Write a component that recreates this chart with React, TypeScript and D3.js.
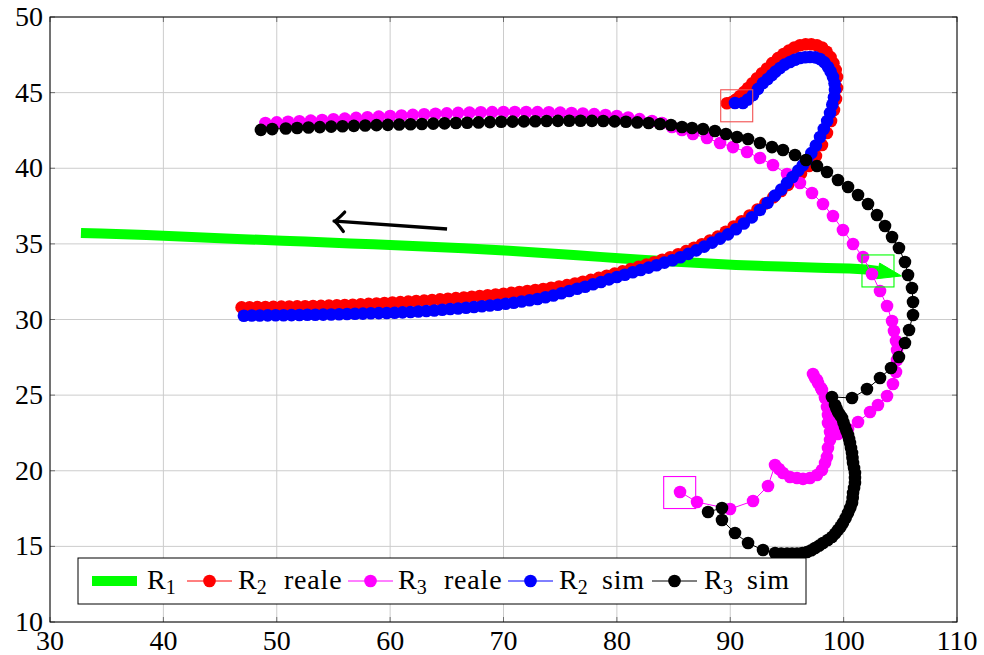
import React from "react";
import * as d3 from "d3";

type P = [number, number];

const xTicks = [30, 40, 50, 60, 70, 80, 90, 100, 110];
const yTicks = [10, 15, 20, 25, 30, 35, 40, 45, 50];

const r1: P[] = [
  [32.73, 35.72], [34.5, 35.68], [36.5, 35.63], [38.5, 35.58], [40.5, 35.52], [42.5, 35.45], [44.5, 35.39],
  [46.5, 35.33], [48.5, 35.27], [50.5, 35.21], [52.5, 35.15], [54.5, 35.09], [56.5, 35.03], [58.5, 34.97],
  [60.5, 34.91], [62.5, 34.85], [64.5, 34.78], [66.5, 34.71], [68.5, 34.63], [70.5, 34.54], [72.5, 34.45],
  [74.5, 34.35], [76.5, 34.25], [78.5, 34.14], [80.5, 34.04], [82.5, 33.94], [84.5, 33.85], [86.5, 33.77],
  [88.5, 33.68], [90.5, 33.61], [92.5, 33.55], [94.5, 33.5], [96.5, 33.45], [98.5, 33.41], [100.5, 33.37],
  [102, 33.31], [103.03, 33.21],
];
const r1Tip: P = [105.1, 32.88];

const r2Reale: P[] = [
  [46.9, 30.8], [47.6, 30.81], [48.3, 30.82], [49, 30.83], [49.7, 30.84], [50.4, 30.85], [51.1, 30.86],
  [51.8, 30.87], [52.5, 30.88], [53.2, 30.89], [53.9, 30.9], [54.6, 30.92], [55.3, 30.94], [56, 30.96],
  [56.7, 30.98], [57.4, 31.0], [58.1, 31.03], [58.8, 31.06], [59.5, 31.09], [60.2, 31.12], [60.9, 31.15],
  [61.6, 31.18], [62.3, 31.22], [63, 31.25], [63.7, 31.29], [64.4, 31.33], [65.1, 31.37], [65.8, 31.41],
  [66.5, 31.45], [67.2, 31.5], [67.9, 31.55], [68.6, 31.6], [69.3, 31.65], [70, 31.7], [70.7, 31.76],
  [71.4, 31.82], [72.1, 31.88], [72.8, 31.95], [73.5, 32.02], [74.2, 32.1], [74.9, 32.18], [75.6, 32.27],
  [76.3, 32.38], [77, 32.5], [77.7, 32.62], [78.4, 32.75], [79.1, 32.89], [79.8, 33.03], [80.5, 33.18],
  [81.2, 33.33], [81.9, 33.48], [82.6, 33.63], [83.3, 33.79], [84, 33.95], [84.7, 34.12], [85.4, 34.31],
  [86.1, 34.52], [86.8, 34.74], [87.5, 34.97], [88.2, 35.22], [88.9, 35.48], [89.6, 35.8], [90.3, 36.15],
  [91, 36.5], [91.7, 36.88], [92.4, 37.27], [93.1, 37.67], [93.8, 38.08], [94.5, 38.5], [95.1, 38.9],
  [95.7, 39.3], [96.24, 39.65], [96.94, 40.15], [97.56, 40.81], [98.09, 41.54], [98.53, 42.33],
  [98.89, 43.12], [99.15, 43.85], [99.33, 44.58], [99.42, 45.31], [99.42, 46.03], [99.3, 46.5],
  [99.1, 46.95], [98.85, 47.35], [98.5, 47.7], [98.1, 47.98], [97.65, 48.13], [97.15, 48.2],
  [96.65, 48.2], [96.15, 48.13], [95.65, 47.98], [95.18, 47.78], [94.7, 47.55], [94.21, 47.28],
  [93.7, 46.95], [93.24, 46.6], [92.8, 46.28], [92.36, 45.95], [91.95, 45.62], [91.57, 45.31],
  [91.2, 45.03], [90.86, 44.78], [90.5, 44.55], [90.16, 44.38], [89.7, 44.3],
];

const r3Reale: P[] = [
  [85.57, 18.6], [87.07, 17.93], [89.98, 17.47], [92.01, 18.0], [93.33, 18.99], [93.95, 20.38],
  [94.3, 20.12], [94.65, 19.85], [95.27, 19.59], [95.89, 19.52], [96.42, 19.46], [97.03, 19.52],
  [97.65, 19.72], [98.09, 20.05], [98.36, 20.51], [98.53, 20.91], [98.62, 21.5], [98.8, 22.03],
  [98.8, 22.56], [98.62, 23.16], [98.62, 23.69], [98.53, 24.21], [98.36, 24.81], [98.09, 25.34],
  [97.74, 25.8], [97.48, 26.13], [97.3, 26.4], [97.65, 26.0], [98.0, 25.47], [98.36, 24.88],
  [98.71, 24.28], [98.97, 23.62], [99.24, 22.96], [99.5, 22.43], [100.39, 22.76], [101.27, 23.22],
  [102.33, 23.88], [103.03, 24.35], [103.83, 24.94], [104.35, 25.74], [104.62, 26.53], [104.71, 27.32],
  [104.71, 27.98], [104.62, 28.58], [104.44, 29.24], [104.27, 29.9], [103.83, 30.89], [103.21, 31.88],
  [102.5, 33.01], [101.71, 34.13], [100.83, 34.99], [99.94, 35.92], [99.06, 36.84], [98.18, 37.64],
  [97.21, 38.36], [96.15, 39.02], [95.01, 39.62], [93.77, 40.21], [92.62, 40.68], [91.48, 41.07],
  [90.24, 41.4], [89.1, 41.67], [87.95, 42.0], [86.71, 42.26], [85.74, 42.53], [84.86, 42.73],
  [83.98, 42.99], [83.1, 43.12], [82, 43.25], [81, 43.36], [80, 43.45], [79, 43.52], [78, 43.58],
  [77, 43.62], [76, 43.65], [75, 43.68], [74, 43.7], [73, 43.71], [72, 43.72], [71, 43.72], [70, 43.72],
  [69, 43.71], [68, 43.7], [67, 43.68], [66, 43.66], [65, 43.63], [64, 43.6], [63, 43.57], [62, 43.53],
  [61, 43.49], [60, 43.45], [59, 43.41], [58, 43.37], [57, 43.33], [56, 43.28], [55, 43.24], [54, 43.19],
  [53, 43.15], [52, 43.11], [51, 43.07], [50, 43.03], [49, 42.99],
];

const r2Sim: P[] = [
  [47.1, 30.25], [47.8, 30.26], [48.5, 30.26], [49.2, 30.27], [49.9, 30.28], [50.6, 30.28], [51.3, 30.29],
  [52, 30.3], [52.7, 30.31], [53.4, 30.31], [54.1, 30.32], [54.8, 30.33], [55.5, 30.35], [56.2, 30.36],
  [56.9, 30.38], [57.6, 30.39], [58.3, 30.41], [59, 30.42], [59.7, 30.43], [60.4, 30.45], [61.1, 30.47],
  [61.8, 30.5], [62.5, 30.53], [63.2, 30.56], [63.9, 30.6], [64.6, 30.64], [65.3, 30.69], [66, 30.73],
  [66.7, 30.78], [67.4, 30.83], [68.1, 30.88], [68.8, 30.93], [69.5, 30.98], [70.2, 31.04], [70.9, 31.11],
  [71.6, 31.19], [72.3, 31.27], [73, 31.36], [73.7, 31.47], [74.4, 31.59], [75.1, 31.74], [75.8, 31.88],
  [76.5, 32.03], [77.2, 32.17], [77.9, 32.33], [78.6, 32.48], [79.3, 32.65], [80, 32.81], [80.7, 32.96],
  [81.4, 33.12], [82.1, 33.27], [82.8, 33.43], [83.5, 33.59], [84.2, 33.76], [84.9, 33.92], [85.6, 34.12],
  [86.3, 34.34], [87, 34.57], [87.7, 34.82], [88.4, 35.08], [89.1, 35.35], [89.8, 35.63], [90.5, 35.97],
  [91.2, 36.35], [91.9, 36.75], [92.62, 37.24], [93.3, 37.72], [93.95, 38.2], [94.5, 38.6], [95.01, 39.02],
  [95.5, 39.42], [96.0, 39.85], [96.4, 40.2], [96.77, 40.55], [97.15, 41.0], [97.55, 41.5], [97.92, 42.07],
  [98.25, 42.6], [98.55, 43.12], [98.8, 43.65], [99.0, 44.2], [99.15, 44.7], [99.24, 45.17], [99.2, 45.6],
  [99.06, 46.03], [98.85, 46.4], [98.62, 46.69], [98.3, 47.0], [97.92, 47.22], [97.5, 47.33],
  [97.03, 47.36], [96.6, 47.34], [96.15, 47.29], [95.7, 47.17], [95.27, 47.02], [94.8, 46.85],
  [94.39, 46.63], [94.0, 46.4], [93.68, 46.17], [93.3, 45.9], [92.89, 45.64], [92.45, 45.25],
  [92.01, 44.84], [91.55, 44.55], [91.12, 44.31], [90.42, 44.31],
];

const r3Sim: P[] = [
  [88.04, 17.27], [89.27, 17.54], [89.27, 16.74], [90.42, 15.88], [91.57, 15.22], [92.89, 14.76],
  [93.95, 14.56], [94.5, 14.53], [95.01, 14.52], [95.45, 14.52], [95.89, 14.53], [96.35, 14.56],
  [96.77, 14.63], [97.15, 14.74], [97.48, 14.89], [97.85, 15.05], [98.18, 15.22], [98.6, 15.42],
  [98.97, 15.62], [99.25, 15.84], [99.5, 16.08], [99.73, 16.3], [99.94, 16.55], [100.18, 16.88],
  [100.39, 17.21], [100.58, 17.54], [100.74, 17.87], [100.8, 18.2], [100.83, 18.53], [100.92, 18.86],
  [101.0, 19.19], [101.0, 19.52], [101.0, 19.85], [100.92, 20.18], [100.83, 20.51], [100.78, 20.84],
  [100.74, 21.17], [100.65, 21.5], [100.56, 21.83], [100.48, 22.1], [100.39, 22.36], [100.25, 22.62],
  [100.12, 22.89], [99.99, 23.19], [99.86, 23.49], [99.68, 23.69], [99.5, 23.88], [99.37, 24.12],
  [99.24, 24.35], [98.97, 24.88], [100.74, 24.81], [102.06, 25.4], [103.21, 26.13], [104.18, 26.79],
  [104.88, 27.52], [105.41, 28.45], [105.77, 29.31], [106.12, 30.3], [106.12, 31.16], [106.03, 32.08],
  [105.68, 32.94], [105.41, 33.8], [104.88, 34.73], [104.27, 35.45], [103.65, 36.18], [102.94, 36.91],
  [102.15, 37.64], [101.27, 38.23], [100.39, 38.76], [99.5, 39.22], [98.53, 39.75], [97.65, 40.15],
  [96.68, 40.55], [95.71, 40.88], [94.65, 41.21], [93.68, 41.4], [92.62, 41.67], [91.57, 41.93],
  [90.6, 42.07], [89.62, 42.26], [88.65, 42.46], [87.6, 42.6], [86.63, 42.66], [85.74, 42.73],
  [84.77, 42.86], [83.8, 42.93], [82.8, 42.99], [81.8, 43.03], [80.8, 43.07], [79.8, 43.1], [78.8, 43.12],
  [77.8, 43.13], [76.8, 43.14], [75.8, 43.14], [74.8, 43.13], [73.8, 43.12], [72.8, 43.11], [71.8, 43.1],
  [70.8, 43.08], [69.8, 43.07], [68.8, 43.05], [67.8, 43.03], [66.8, 43.01], [65.8, 42.99], [64.8, 42.97],
  [63.8, 42.95], [62.8, 42.93], [61.8, 42.91], [60.8, 42.89], [59.8, 42.87], [58.8, 42.85], [57.8, 42.83],
  [56.8, 42.8], [55.8, 42.78], [54.8, 42.75], [53.8, 42.72], [52.8, 42.69], [51.8, 42.66], [50.8, 42.63],
  [49.6, 42.59], [48.6, 42.54],
];

const startSquares: { p: P; color: string }[] = [
  { p: [90.57, 44.13], color: "#f25050" },
  { p: [85.54, 18.56], color: "#ff00ff" },
  { p: [103.03, 33.21], color: "#00ff00" },
];

const motionArrow: P[] = [[65.02, 35.98], [55.05, 36.51]];

const series = [
  { data: r2Reale, color: "#ff0000" },
  { data: r3Reale, color: "#ff00ff" },
  { data: r2Sim, color: "#0000ff" },
  { data: r3Sim, color: "#000000" },
];

const legendSubs = ["1", "2", "3", "2", "3"];
const legendRest = ["", "reale", "reale", "sim", "sim"];

const W = 984;
const H = 655;
const L = 50, R = 957, T = 17, B = 622;
const FONT = "'Liberation Serif', 'Times New Roman', serif";

export default function App() {
  const x = d3.scaleLinear().domain([30, 110]).range([L, R]);
  const y = d3.scaleLinear().domain([10, 50]).range([B, T]);
  const line = d3.line<P>().x((d) => x(d[0])).y((d) => y(d[1]));
  const MR = 6.3;

  // green arrowhead
  const last = r1[r1.length - 1];
  const bx = x(last[0]), by = y(last[1]);
  const tx = x(r1Tip[0]), ty = y(r1Tip[1]);
  const dx = tx - bx, dy = ty - by;
  const len = Math.hypot(dx, dy);
  const nx = -dy / len, ny = dx / len;
  const hw = 8;
  const headPath = `M${bx + nx * hw},${by + ny * hw} L${tx},${ty} L${bx - nx * hw},${by - ny * hw} Z`;

  // motion arrow
  const ax0 = x(motionArrow[0][0]), ay0 = y(motionArrow[0][1]);
  const ax1 = x(motionArrow[1][0]), ay1 = y(motionArrow[1][1]);
  const adx = ax0 - ax1, ady = ay0 - ay1;
  const alen = Math.hypot(adx, ady);
  const ux = adx / alen, uy = ady / alen;
  const armLen = 14;
  const ang = (44 * Math.PI) / 180;
  const rot = (vx: number, vy: number, a: number): P => [vx * Math.cos(a) - vy * Math.sin(a), vx * Math.sin(a) + vy * Math.cos(a)];
  const a1 = rot(ux, uy, ang);
  const a2 = rot(ux, uy, -ang);

  const legendColors = ["#00ff00", "#ff0000", "#ff00ff", "#0000ff", "#000000"];
  const legendLineX = [92, 187, 348, 508, 652];
  const legendTextX = [147, 238, 398, 559, 704];
  const legendRestX = [0, 284, 444, 602, 747];
  const ly = 581;

  return (
    <svg width={W} height={H} style={{ position: "absolute", left: 0, top: 0, background: "#fff" }} fontFamily={FONT}>
      <style>{"body{margin:0}"}</style>
      <rect x={0} y={0} width={W} height={H} fill="#fff" />
      {/* grid */}
      {xTicks.map((t) => (
        <line key={"gx" + t} x1={x(t)} x2={x(t)} y1={T} y2={B} stroke="#cccccc" strokeWidth={1} />
      ))}
      {yTicks.map((t) => (
        <line key={"gy" + t} x1={L} x2={R} y1={y(t)} y2={y(t)} stroke="#cccccc" strokeWidth={1} />
      ))}
      {/* ticks */}
      {xTicks.map((t) => (
        <g key={"tx" + t}>
          <line x1={x(t)} x2={x(t)} y1={B} y2={B - 5} stroke="#555" strokeWidth={0.8} />
          <line x1={x(t)} x2={x(t)} y1={T} y2={T + 5} stroke="#555" strokeWidth={0.8} />
        </g>
      ))}
      {yTicks.map((t) => (
        <g key={"ty" + t}>
          <line x1={L} x2={L + 5} y1={y(t)} y2={y(t)} stroke="#555" strokeWidth={0.8} />
          <line x1={R} x2={R - 5} y1={y(t)} y2={y(t)} stroke="#555" strokeWidth={0.8} />
        </g>
      ))}

      {/* R1 green */}
      <path d={line(r1) || ""} fill="none" stroke="#00ff00" strokeWidth={10} strokeLinejoin="round" />
      <path d={headPath} fill="#00ff00" stroke="#00ff00" strokeWidth={1} strokeLinejoin="miter" />

      {/* other series */}
      {series.map((s, i) => (
        <g key={"s" + i}>
          <path d={line(s.data) || ""} fill="none" stroke={s.color} strokeWidth={1} />
          {s.data.map((d, j) => (
            <circle key={j} cx={x(d[0])} cy={y(d[1])} r={MR} fill={s.color} />
          ))}
        </g>
      ))}

      {/* start squares */}
      {startSquares.map((sq, i) => (
        <rect key={"sq" + i} x={x(sq.p[0]) - 16} y={y(sq.p[1]) - 16} width={32} height={32} fill="none" stroke={sq.color} strokeWidth={1.1} />
      ))}

      {/* motion arrow */}
      <line x1={ax0} y1={ay0} x2={ax1 + ux * 1.5} y2={ay1 + uy * 1.5} stroke="#000" strokeWidth={3.4} />
      <path
        d={`M${ax1 + a1[0] * armLen},${ay1 + a1[1] * armLen} Q${ax1 + ux * 2},${ay1 + uy * 2} ${ax1},${ay1} Q${ax1 + ux * 2},${ay1 + uy * 2} ${ax1 + a2[0] * armLen},${ay1 + a2[1] * armLen}`}
        fill="none"
        stroke="#000"
        strokeWidth={3.2}
        strokeLinecap="round"
        strokeLinejoin="round"
      />

      {/* axis box */}
      <rect x={L} y={T} width={R - L} height={B - T} fill="none" stroke="#000" strokeWidth={1} />

      {/* tick labels */}
      {xTicks.map((t) => (
        <text key={"lx" + t} x={x(t)} y={650} textAnchor="middle" fontSize={28} fill="#000">
          {t}
        </text>
      ))}
      {yTicks.map((t) => (
        <text key={"ly" + t} x={43} y={y(t) + 9} textAnchor="end" fontSize={28} fill="#000">
          {t}
        </text>
      ))}

      {/* legend */}
      <rect x={78} y={558} width={728} height={46} fill="#fff" stroke="#000" strokeWidth={1} />
      {legendColors.map((c, i) => (
        <g key={"lg" + i}>
          {i === 0 ? (
            <line x1={legendLineX[i]} x2={legendLineX[i] + 45} y1={ly} y2={ly} stroke={c} strokeWidth={10} />
          ) : (
            <g>
              <line x1={legendLineX[i]} x2={legendLineX[i] + 45} y1={ly} y2={ly} stroke={c} strokeWidth={1} />
              <circle cx={legendLineX[i] + 22.5} cy={ly} r={MR} fill={c} />
            </g>
          )}
          <text x={legendTextX[i]} y={589} fontSize={28} fill="#000">
            R
            <tspan fontSize={20} dy={5}>{legendSubs[i]}</tspan>
          </text>
          {legendRest[i] && (
            <text x={legendRestX[i]} y={589} fontSize={28} fill="#000" letterSpacing={0.8}>
              {legendRest[i]}
            </text>
          )}
        </g>
      ))}
    </svg>
  );
}
